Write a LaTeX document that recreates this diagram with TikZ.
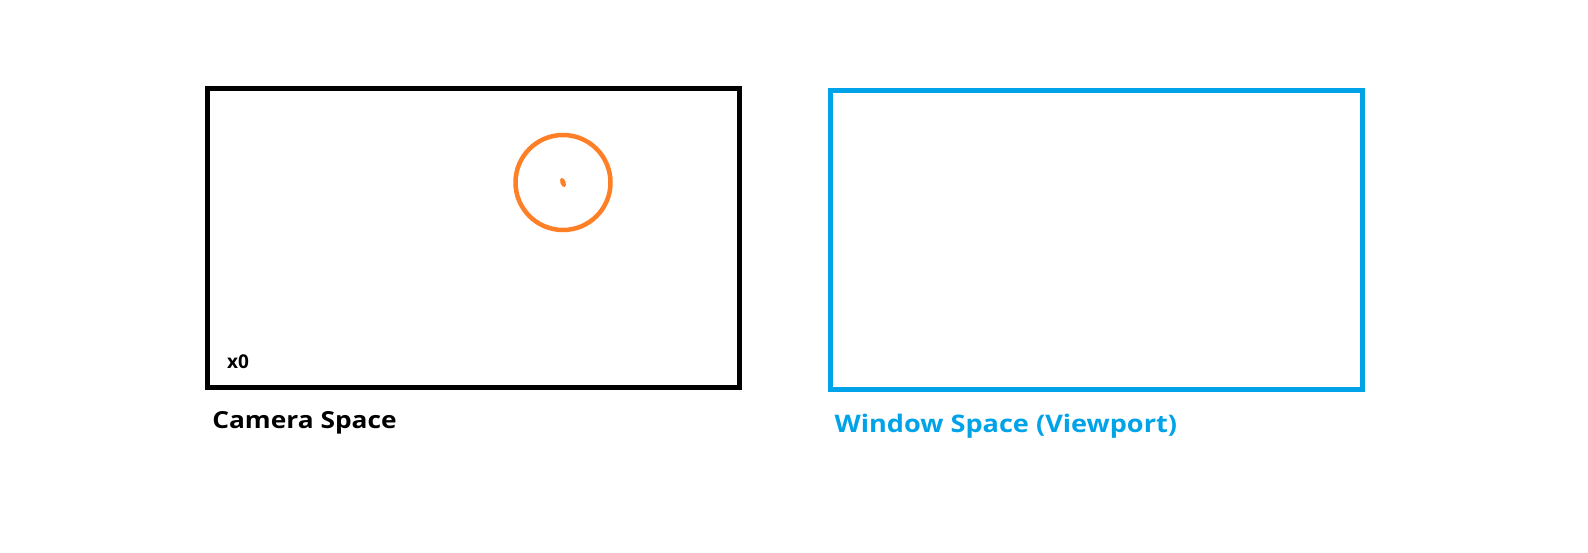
\documentclass[tikz,border=0pt]{standalone}
\usepackage{fontspec}
\setmainfont{Open Sans}
\newfontfamily\lblfont[FakeStretch=1.12]{Open Sans}
\usetikzlibrary{positioning}
\usetikzlibrary{calc}
\definecolor{paintblue}{HTML}{00A2E8}
\definecolor{paintorange}{HTML}{FF7F27}
\tikzstyle{space} = [rectangle, draw=black, line width=5pt,
                     minimum width=532pt, minimum height=299pt, inner sep=0pt]
\tikzstyle{label} = [font=\lblfont\bfseries\fontsize{23.5}{27}\selectfont, inner sep=0pt, anchor=base west]
\tikzstyle{blob} = [circle, draw=paintorange, line width=4.5pt, minimum size=95pt, inner sep=0pt]

\begin{document}
\begin{tikzpicture}[x=1pt,y=-1pt]
    \useasboundingbox (0,0) rectangle (1588,552);
    \node[space] (cam) at (473.6,238) {};
    \node[space,draw=paintblue] (win) at (1096,240) {};
    \node[label] (camlbl) at ($ (cam.south west) + (7,38) $) {Camera Space};
    \node[label,text=paintblue,font=\lblfont\bfseries\fontsize{24.2}{27}\selectfont] (winlbl) at ($ (win.south west) + (7,40) $) {Window Space (Viewport)};
    \node[blob] (obj) at (563,182.5) {};
    \fill[paintorange,rotate around={20:(obj.center)}] (obj.center) ellipse (2.6 and 4.8);
    \node[font=\bfseries\fontsize{19}{19}\selectfont, inner sep=0pt] (origin) at ($ (cam.south west) + (33,-28) $) {x0};
  \end{tikzpicture}
\end{document}
